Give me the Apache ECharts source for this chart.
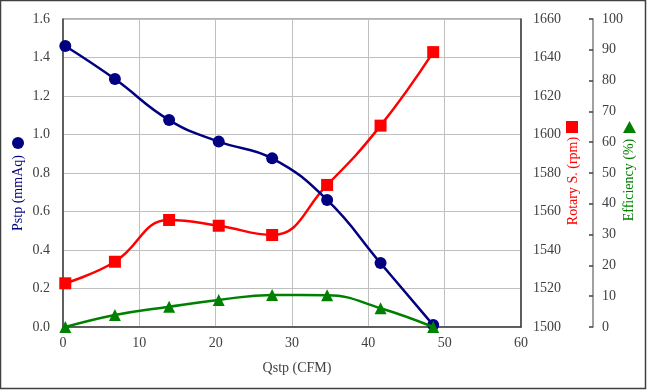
<!DOCTYPE html>
<html><head><meta charset="utf-8">
<script src="https://cdn.jsdelivr.net/npm/echarts@6/dist/echarts.min.js"></script>
<style>html,body{margin:0;padding:0;background:#fff}#c{width:647px;height:390px}</style>
</head><body><div id="c"></div>
<script>
const qstp = [0.3, 6.8, 13.9, 20.4, 27.4, 34.6, 41.6, 48.5];
const pstp = [1.46, 1.288, 1.075, 0.963, 0.876, 0.66, 0.332, 0.01];
const rpm = [1522.7, 1533.9, 1555.6, 1552.6, 1547.8, 1573.8, 1604.6, 1642.8];
const eff = [0, 3.9, 6.6, 8.8, 10.4, 10.3, 6.1, 0];

const xTitle = 'Qstp (CFM)';
const yTitle1 = 'Pstp (mmAq)';
const yTitle2 = 'Rotary S. (rpm)';
const yTitle3 = 'Efficiency (%)';

const FONT = '"Liberation Serif", "DejaVu Serif", serif';
const labelStyle = {color: '#404040', fontFamily: FONT, fontSize: 14};
const pair = arr => qstp.map((x, i) => [x, arr[i]]);

const chart = echarts.init(document.getElementById('c'));
chart.setOption({
  animation: false,
  textStyle: {fontFamily: FONT},
  grid: {left: 63, right: 126, top: 19, bottom: 63, show: true, borderColor: '#606060', borderWidth: 1},
  xAxis: {
    type: 'value', min: 0, max: 60, interval: 10,
    axisLine: {show: true, lineStyle: {color: '#404040', width: 1.5}},
    axisTick: {show: false},
    axisLabel: Object.assign({margin: 9}, labelStyle),
    splitLine: {show: true, lineStyle: {color: '#c0c0c0', width: 1}}
  },
  yAxis: [
    {
      type: 'value', min: 0, max: 1.6, interval: 0.2, position: 'left',
      axisLine: {show: true, lineStyle: {color: '#404040', width: 1.5}},
      axisTick: {show: false},
      axisLabel: Object.assign({margin: 13, formatter: v => v.toFixed(1)}, labelStyle),
      splitLine: {show: true, lineStyle: {color: '#c0c0c0', width: 1}}
    },
    {
      type: 'value', min: 1500, max: 1660, interval: 20, position: 'right',
      axisLine: {show: true, lineStyle: {color: '#404040', width: 1.5}},
      axisTick: {show: false},
      axisLabel: Object.assign({margin: 12, formatter: v => String(v)}, labelStyle),
      splitLine: {show: false}
    },
    {
      type: 'value', min: 0, max: 100, interval: 10, position: 'right', offset: 72,
      axisLine: {show: true, lineStyle: {color: '#808080', width: 1.5}},
      axisTick: {show: true, inside: true, length: 4, lineStyle: {color: '#404040', width: 1.5}},
      axisLabel: Object.assign({margin: 9, formatter: v => String(v)}, labelStyle),
      splitLine: {show: false}
    }
  ],
  series: [
    {
      name: yTitle1, type: 'line', yAxisIndex: 0, data: pair(pstp), smooth: 0.45,
      symbol: 'circle', symbolSize: 12,
      lineStyle: {color: '#000080', width: 2.5}, itemStyle: {color: '#000080'}, z: 3
    },
    {
      name: yTitle2, type: 'line', yAxisIndex: 1, data: pair(rpm), smooth: 0.45,
      symbol: 'rect', symbolSize: 12,
      lineStyle: {color: '#ff0000', width: 2.5}, itemStyle: {color: '#ff0000'}, z: 2
    },
    {
      name: yTitle3, type: 'line', yAxisIndex: 2, data: pair(eff), smooth: 0.45,
      symbol: 'triangle', symbolSize: 12,
      lineStyle: {color: '#008000', width: 2.5}, itemStyle: {color: '#008000'}, z: 4
    }
  ],
  graphic: [
    {type: 'rect', shape: {x: 0.5, y: 0.5, width: 645, height: 388}, style: {fill: 'none', stroke: '#404040', lineWidth: 1.5}, silent: true},
    {type: 'text', x: 297, y: 368, style: {text: xTitle, fill: '#404040', font: '14px ' + FONT, textAlign: 'center', textVerticalAlign: 'middle'}},
    {type: 'text', x: 18, y: 193, rotation: Math.PI / 2, style: {text: yTitle1, fill: '#000080', font: '14px ' + FONT, textAlign: 'center', textVerticalAlign: 'middle'}},
    {type: 'circle', shape: {cx: 18, cy: 143, r: 6}, style: {fill: '#000080'}},
    {type: 'text', x: 573, y: 181, rotation: Math.PI / 2, style: {text: yTitle2, fill: '#ff0000', font: '14px ' + FONT, textAlign: 'center', textVerticalAlign: 'middle'}},
    {type: 'rect', shape: {x: 566, y: 121, width: 12, height: 12}, style: {fill: '#ff0000'}},
    {type: 'text', x: 629, y: 180, rotation: Math.PI / 2, style: {text: yTitle3, fill: '#008000', font: '14px ' + FONT, textAlign: 'center', textVerticalAlign: 'middle'}},
    {type: 'polygon', shape: {points: [[629.5, 121], [623, 133], [636, 133]]}, style: {fill: '#008000'}}
  ]
});
</script></body></html>
